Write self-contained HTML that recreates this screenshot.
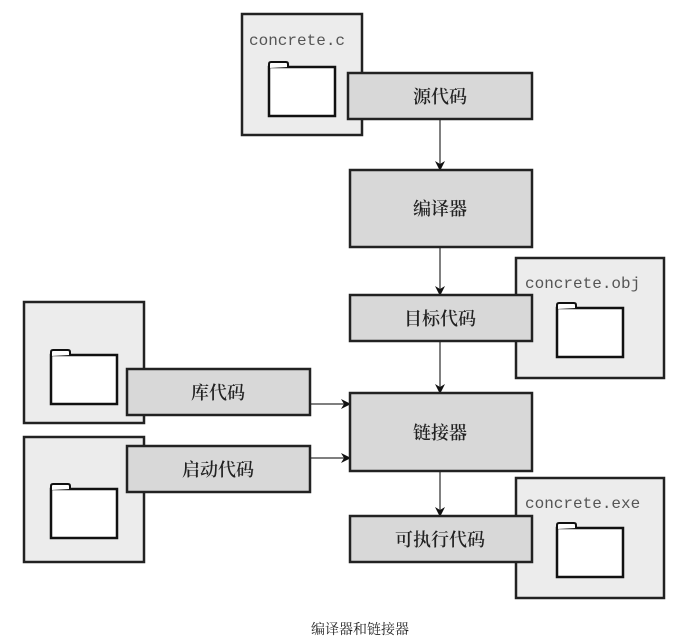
<!DOCTYPE html>
<html><head><meta charset="utf-8"><style>body{margin:0;background:#fff}svg{display:block}</style></head><body>
<svg width="673" height="641" viewBox="0 0 673 641" xmlns="http://www.w3.org/2000/svg">
<defs>
<marker id="a" markerWidth="10" markerHeight="10" refX="9" refY="5" orient="auto" markerUnits="userSpaceOnUse"><path d="M0,0 L10,5 L0,10 L3,5 Z" fill="#111"/></marker>
<g id="f"><rect x="0" y="5" width="66" height="49" fill="#fff" stroke="#111" stroke-width="2.5"/><path d="M0,6 V2 Q0,0 2,0 H17 Q19,0 19,2 V5" fill="#fff" stroke="#111" stroke-width="2"/></g>
</defs>
<g stroke="#222" stroke-width="2.5" fill="#ececec">
<rect x="242" y="14" width="120" height="121"/>
<rect x="516" y="258" width="148" height="120"/>
<rect x="516" y="478" width="148" height="120"/>
<rect x="24" y="302" width="120" height="121"/>
<rect x="24" y="437" width="120" height="125"/>
</g>
<use href="#f" x="269" y="62"/>
<use href="#f" x="557" y="303"/>
<use href="#f" x="557" y="523"/>
<use href="#f" x="51" y="350"/>
<use href="#f" x="51" y="484"/>
<g font-family="Liberation Mono, monospace" font-size="16" fill="#555">
<text x="249" y="45">concrete.c</text>
<text x="525" y="288">concrete.obj</text>
<text x="525" y="508">concrete.exe</text>
</g>
<g stroke="#555" stroke-width="1.5" marker-end="url(#a)">
<line x1="440" y1="119" x2="440" y2="170"/>
<line x1="440" y1="247" x2="440" y2="295"/>
<line x1="440" y1="341" x2="440" y2="393"/>
<line x1="440" y1="471" x2="440" y2="516"/>
<line x1="310" y1="404" x2="350" y2="404"/>
<line x1="310" y1="458" x2="350" y2="458"/>
</g>
<g stroke="#222" stroke-width="2.5" fill="#d8d8d8">
<rect x="348" y="73" width="184" height="46"/>
<rect x="350" y="170" width="182" height="77"/>
<rect x="350" y="295" width="182" height="46"/>
<rect x="350" y="393" width="182" height="78"/>
<rect x="350" y="516" width="182" height="46"/>
<rect x="127" y="369" width="183" height="46"/>
<rect x="127" y="446" width="183" height="46"/>
</g>
<g font-family="'Noto Serif CJK SC', serif" font-size="18" font-weight="600" fill="#222" text-anchor="middle">
<text x="440" y="103">源代码</text>
<text x="440" y="215">编译器</text>
<text x="440" y="325">目标代码</text>
<text x="440" y="439">链接器</text>
<text x="440" y="546">可执行代码</text>
<text x="218" y="399">库代码</text>
<text x="218" y="476">启动代码</text>
<text x="360" y="634" font-size="14" font-weight="400">编译器和链接器</text>
</g>
</svg>
</body></html>
